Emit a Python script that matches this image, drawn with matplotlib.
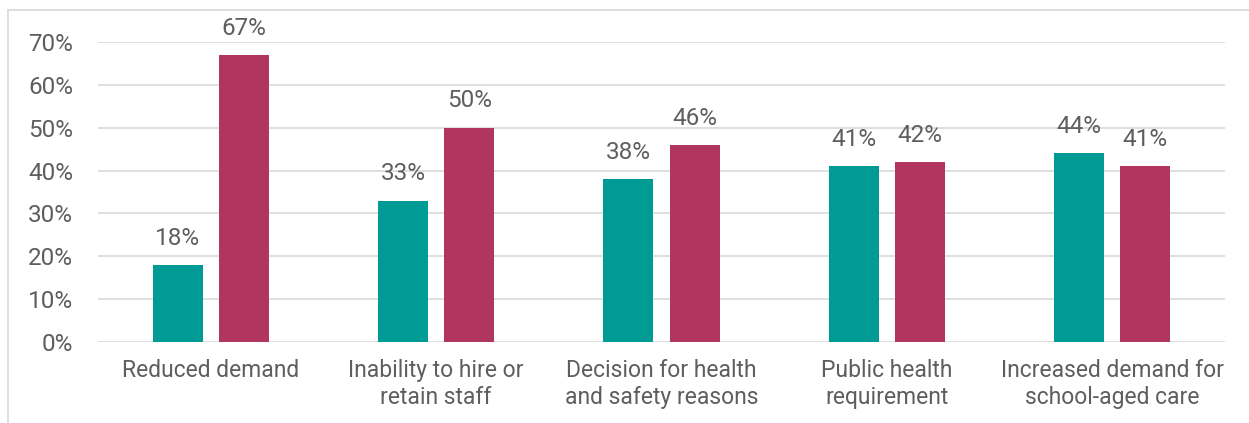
import matplotlib
matplotlib.use("Agg")
import matplotlib.pyplot as plt
import numpy as np
from matplotlib.lines import Line2D

categories = ["Reduced demand", "Inability to hire or\nretain staff", "Decision for health\nand safety reasons",
              "Public health\nrequirement", "Increased demand for\nschool-aged care"]
series_a = [18, 33, 38, 41, 44]
series_b = [67, 50, 46, 42, 41]
yticks = [0, 10, 20, 30, 40, 50, 60, 70]

plt.rcParams['font.family'] = ['Roboto', 'DejaVu Sans']
W, H = 1249, 423
fig = plt.figure(figsize=(W/100, H/100), dpi=100)
ax = fig.add_axes([98/W, 1-342/H, (1225-98)/W, 300/H])

x = np.arange(len(categories))
off = 0.147
bw = 0.222
teal = "#009B95"
mag = "#B0365F"
txt = "#5E5E5E"
b1 = ax.bar(x - off, series_a, bw, color=teal, zorder=3)
b2 = ax.bar(x + off, series_b, bw, color=mag, zorder=3)
for bars, vals in ((b1, series_a), (b2, series_b)):
    for r, v in zip(bars, vals):
        ax.annotate(f"{v}%", (r.get_x() + r.get_width()/2, v), xytext=(0, 11),
                    textcoords="offset points", ha="center", va="bottom",
                    fontsize=17.5, color=txt)

ax.set_xlim(-0.5, len(categories) - 0.5)
ax.set_ylim(0, 70)
ax.set_yticks(yticks)
ax.set_yticklabels([f"{t}%" for t in yticks])
ax.set_xticks(x)
ax.set_xticklabels(categories, fontsize=16.5, color=txt, linespacing=1.25)
ax.tick_params(axis='y', length=0, pad=18, labelsize=17.5, labelcolor=txt)
ax.tick_params(axis='x', length=0, pad=12)
for s in ax.spines.values():
    s.set_visible(False)
ax.yaxis.grid(True, color="#D9D9D9", linewidth=1.2, zorder=0)
ax.set_axisbelow(True)

# outer border (top and left)
fig.add_artist(Line2D([8/W, 1], [1-10.5/H, 1-10.5/H], transform=fig.transFigure, color="#D9D9D9", linewidth=1.2))
fig.add_artist(Line2D([8/W, 8/W], [0, 1-10.5/H], transform=fig.transFigure, color="#D9D9D9", linewidth=1.2))

fig.savefig("out.png", dpi=100)
